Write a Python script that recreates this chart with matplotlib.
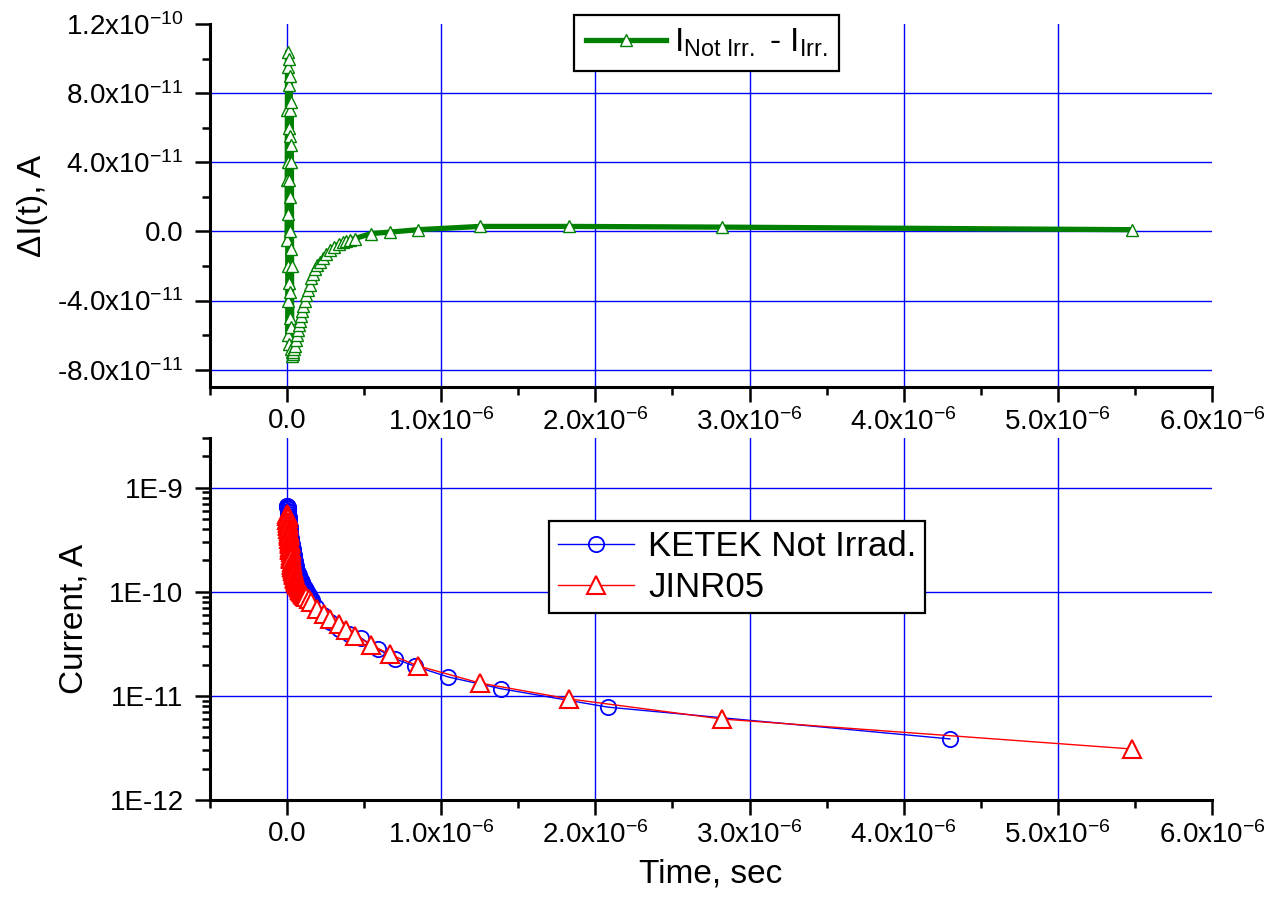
import matplotlib
matplotlib.use("Agg")
import matplotlib.pyplot as plt
import numpy as np

plt.rcParams['font.family'] = ['Liberation Sans', 'DejaVu Sans']
plt.rcParams['mathtext.fontset'] = 'custom'
plt.rcParams['mathtext.rm'] = 'Liberation Sans'
plt.rcParams['mathtext.it'] = 'Liberation Sans:italic'
plt.rcParams['mathtext.bf'] = 'Liberation Sans:bold'

# --- datos (tiempo en us, corriente en pA) ---
# diferencia I_NotIrr - I_Irr
t_dif = [0.000, 0.001, 0.002, 0.003, 0.004, 0.005, 0.006, 0.007, 0.008, 0.009,
         0.010, 0.011, 0.012, 0.013, 0.014, 0.015, 0.016, 0.017, 0.018, 0.019,
         0.020, 0.021, 0.022, 0.023, 0.024, 0.025, 0.026, 0.027, 0.028, 0.029,
         0.030,
         0.033, 0.036, 0.040, 0.045, 0.050, 0.056, 0.062, 0.069, 0.076, 0.082,
         0.089, 0.096, 0.105, 0.115, 0.125, 0.135, 0.146, 0.158,
         0.170, 0.183, 0.197, 0.215, 0.234, 0.255, 0.277, 0.305, 0.338, 0.360,
         0.385, 0.410, 0.440,
         0.547, 0.667, 0.850, 1.250, 1.830, 2.820, 5.480]
i_dif = [-5, 30, 70, 104, 95, 40, -20, -60, -40, 10,
         60, 100, 85, 30, -30, -65, -50, 0, 55, 90,
         70, 20, -35, -68, -55, -10, 40, 75, 50, -20,
         -70,
         -72, -71, -70, -68, -66, -63, -60, -57, -54, -51.6,
         -49, -46, -43, -40, -37, -34, -31, -27,
         -24.5, -22, -19.7, -17.5, -15.5, -13.2, -11, -9, -7.2, -6.3,
         -5.6, -4.9, -4.1,
         -1.2, -0.4, 1.0, 2.9, 2.9, 2.5, 1.0]

# KETEK no irradiado
t_ketek = [0.000, 0.001, 0.002, 0.003, 0.004, 0.005, 0.006, 0.007, 0.008, 0.009,
           0.010, 0.011, 0.012, 0.013, 0.014, 0.015, 0.016, 0.017, 0.018, 0.019,
           0.020,
           0.022, 0.024, 0.026, 0.028, 0.030, 0.032, 0.034, 0.036, 0.038, 0.040,
           0.042, 0.044, 0.046, 0.048, 0.050, 0.052, 0.054, 0.056, 0.058, 0.060,
           0.065, 0.070, 0.075, 0.080, 0.085, 0.090, 0.095, 0.100, 0.105, 0.110,
           0.115, 0.120, 0.125, 0.130, 0.135, 0.140, 0.145, 0.150, 0.155, 0.160,
           0.190, 0.230, 0.280, 0.340, 0.400, 0.480, 0.590, 0.700, 0.833, 1.045,
           1.390, 2.080, 4.300]
i_ketek = [650, 660, 665, 655, 640, 620, 600, 585, 560, 540,
           520, 500, 480, 465, 450, 430, 415, 400, 385, 370,
           355,
           340, 325, 312, 300, 288, 276, 265, 255, 245, 236,
           227, 219, 211, 204, 197, 190, 184, 178, 172, 166,
           158, 151, 145, 139, 134, 129, 124, 120, 116, 112,
           108.5, 105, 102, 99, 96, 93, 90.5, 88, 85.5, 83,
           71, 60, 51, 44, 39.5, 36, 28, 22.7, 19.2, 15.2,
           11.7, 7.8, 3.86]

# JINR05
t_jinr = [0.000, 0.001, 0.002, 0.003, 0.004, 0.005, 0.006, 0.007, 0.008, 0.009,
          0.010, 0.011, 0.012, 0.013, 0.014, 0.015, 0.016, 0.017, 0.018, 0.019,
          0.020, 0.021, 0.022, 0.023, 0.024, 0.025, 0.026, 0.027, 0.028, 0.029,
          0.030,
          0.032, 0.034, 0.036, 0.038, 0.040, 0.042, 0.044, 0.046, 0.048, 0.050,
          0.052, 0.054, 0.056, 0.058, 0.060,
          0.063, 0.066, 0.069, 0.072, 0.075, 0.078, 0.081, 0.084, 0.087, 0.090,
          0.093, 0.096, 0.099, 0.102, 0.105, 0.108, 0.111, 0.114, 0.117, 0.120,
          0.140, 0.158, 0.197, 0.237, 0.277, 0.335, 0.383, 0.440, 0.545, 0.667,
          0.850, 1.250, 1.830, 2.820, 5.480]
i_jinr = [490, 530, 560, 545, 510, 470, 440, 455, 430, 400,
          380, 365, 350, 360, 340, 320, 305, 295, 300, 285,
          270, 258, 250, 255, 240, 228, 218, 212, 205, 195,
          186,
          180, 174, 169, 164, 160, 156, 152, 148, 144, 140,
          137, 134, 131, 128, 125,
          122, 119.5, 117, 115, 113, 111, 109, 107, 105, 103.5,
          102, 100.5, 99, 97.5, 96, 94.8, 93.6, 92.4, 91.2, 90,
          85, 79, 68, 61, 55, 49, 43, 38, 31, 25,
          19.4, 13.3, 9.35, 6.0, 3.09]

xticks = [0, 1e-6, 2e-6, 3e-6, 4e-6, 5e-6, 6e-6]
xlabels = ['0.0'] + [f'{v:.1f}x10$^{{\\mathregular{{-6}}}}$' for v in [1, 2, 3, 4, 5, 6]]
yticks1 = [-8e-11, -4e-11, 0, 4e-11, 8e-11, 1.2e-10]
ylabels1 = ['-8.0x10$^{\\mathregular{-11}}$', '-4.0x10$^{\\mathregular{-11}}$', '0.0',
            '4.0x10$^{\\mathregular{-11}}$', '8.0x10$^{\\mathregular{-11}}$',
            '1.2x10$^{\\mathregular{-10}}$']
yticks2 = [1e-12, 1e-11, 1e-10, 1e-9]
ylabels2 = ['1E-12', '1E-11', '1E-10', '1E-9']

us = 1e-6
pA = 1e-12

fig = plt.figure(figsize=(12.67, 9.13), dpi=100)
ax1 = fig.add_axes([0.16575, 0.57612, 0.79084, 0.39759])
ax2 = fig.add_axes([0.16575, 0.12377, 0.79084, 0.39650])


def estilo(ax):
    for s in ['top', 'right']:
        ax.spines[s].set_visible(False)
    for s in ['left', 'bottom']:
        ax.spines[s].set_linewidth(2.2)
    ax.tick_params(which='major', direction='out', length=11, width=1.8,
                   labelsize=20)
    ax.tick_params(axis='y', which='major', pad=8)
    ax.tick_params(axis='x', which='major', pad=4)
    ax.tick_params(which='minor', direction='out', length=6, width=1.8)
    ax.set_axisbelow(True)
    ax.grid(True, which='major', color='#0000FF', linewidth=1.0)
    ax.set_xlim(-0.5e-6, 6e-6)
    ax.set_xticks(xticks)
    ax.set_xticklabels(xlabels)
    ax.set_xticks(np.array([-0.5, 0.5, 1.5, 2.5, 3.5, 4.5, 5.5]) * us, minor=True)
    for line, loc in zip(ax.get_xgridlines(), xticks):
        if loc == 6e-6:
            line.set_visible(False)


# --- grafica superior ---
estilo(ax1)
ax1.plot(np.array(t_dif) * us, np.array(i_dif) * pA, color='#008000', lw=3.8,
         marker='^', ms=8.5, mfc='white', mec='#008000', mew=1.0,
         label=r'I$_{\mathregular{Not\ Irr.}}$ - I$_{\mathregular{Irr.}}$')
ax1.set_ylim(-9e-11, 1.2e-10)
ax1.set_yticks(yticks1)
ax1.set_yticklabels(ylabels1)
ax1.set_yticks(np.array([-8, -6, -4, -2, 0, 2, 4, 6, 8, 10, 12]) * 1e-11, minor=True)
for line, loc in zip(ax1.get_ygridlines(), yticks1):
    if loc == 1.2e-10:
        line.set_visible(False)
ax1.set_ylabel('ΔI(t), A', fontsize=24, labelpad=6)
leg1 = ax1.legend(loc='upper left', bbox_to_anchor=(574 / 1267, 1 - 15 / 913),
                  bbox_transform=fig.transFigure, borderaxespad=0, fontsize=24,
                  fancybox=False, edgecolor='black', framealpha=1,
                  handlelength=2.4, handletextpad=0.25, borderpad=0.35)
leg1.get_frame().set_linewidth(1.6)

# --- grafica inferior ---
estilo(ax2)
ax2.set_yscale('log')
ax2.plot(np.array(t_ketek) * us, np.array(i_ketek) * pA, color='#0000FF', lw=1.0,
         marker='o', ms=11, mfc='none', mec='#0000FF', mew=1.3,
         label='KETEK Not Irrad.')
ax2.plot(np.array(t_jinr) * us, np.array(i_jinr) * pA, color='#FF0000', lw=1.0,
         marker='^', ms=13, mfc='white', mec='#FF0000', mew=1.5,
         label='JINR05')
ax2.set_ylim(1e-12, 3e-9)
ax2.set_yticks(yticks2)
ax2.set_yticklabels(ylabels2)
ax2.yaxis.set_minor_locator(matplotlib.ticker.LogLocator(base=10, subs=np.arange(2, 10)))
ax2.yaxis.set_minor_formatter(matplotlib.ticker.NullFormatter())
for line, loc in zip(ax2.get_ygridlines(), yticks2):
    if loc == 1e-12:
        line.set_visible(False)
ax2.set_ylabel('Current, A', fontsize=24, labelpad=14)
ax2.set_xlabel('Time, sec', fontsize=24, labelpad=7)
leg2 = ax2.legend(loc='upper left', bbox_to_anchor=(549 / 1267, 1 - 521 / 913),
                  bbox_transform=fig.transFigure, borderaxespad=0, fontsize=25,
                  fancybox=False, edgecolor='black', framealpha=1,
                  handlelength=2.2, handletextpad=0.4, borderpad=0.25,
                  labelspacing=0.25)
leg2.get_frame().set_linewidth(1.6)

fig.savefig('out.png', dpi=100)
